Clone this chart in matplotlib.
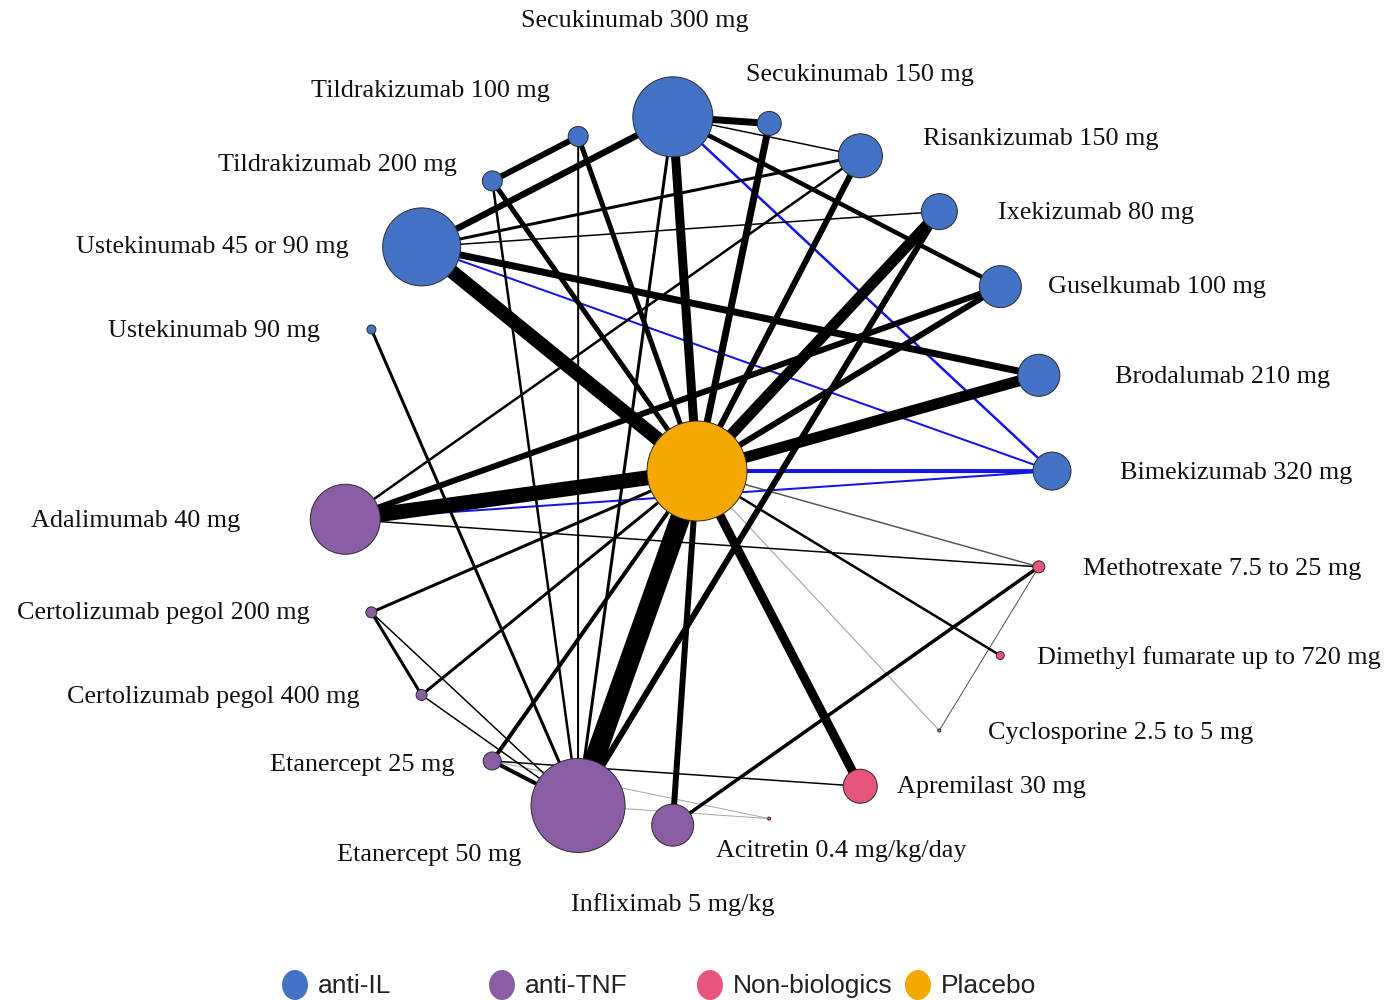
import numpy as np
import matplotlib
matplotlib.use("Agg")
import matplotlib.pyplot as plt
from matplotlib.patches import Circle, Ellipse

# ---------------- data ----------------
nodes = ["Secukinumab 300 mg", "Secukinumab 150 mg", "Risankizumab 150 mg",
         "Ixekizumab 80 mg", "Guselkumab 100 mg", "Brodalumab 210 mg",
         "Bimekizumab 320 mg", "Methotrexate 7.5 to 25 mg",
         "Dimethyl fumarate up to 720 mg", "Cyclosporine 2.5 to 5 mg",
         "Apremilast 30 mg", "Acitretin 0.4 mg/kg/day", "Infliximab 5 mg/kg",
         "Etanercept 50 mg", "Etanercept 25 mg", "Certolizumab pegol 400 mg",
         "Certolizumab pegol 200 mg", "Adalimumab 40 mg", "Placebo",
         "Ustekinumab 90 mg", "Ustekinumab 45 or 90 mg",
         "Tildrakizumab 200 mg", "Tildrakizumab 100 mg"]
node_class = ["anti-IL", "anti-IL", "anti-IL", "anti-IL", "anti-IL", "anti-IL",
              "anti-IL", "Non-biologics", "Non-biologics", "Non-biologics",
              "Non-biologics", "Non-biologics", "anti-TNF", "anti-TNF",
              "anti-TNF", "anti-TNF", "anti-TNF", "anti-TNF", "Placebo",
              "anti-IL", "anti-IL", "anti-IL", "anti-IL"]
# relative node size (radius units)
node_size = [40, 12, 22, 18, 21, 21, 19, 6, 4, 1.5, 17, 1.5, 21, 47, 9, 5.5,
             5.5, 35, 50, 4.5, 39, 10, 10]

categories = ["anti-IL", "anti-TNF", "Non-biologics", "Placebo"]

# edges: (node a, node b, weight, type)  type: d=direct black, b=blue, g=gray, l=light gray
edges = [
    ("Placebo", "Secukinumab 300 mg", 9, "d"),
    ("Placebo", "Secukinumab 150 mg", 7, "d"),
    ("Placebo", "Risankizumab 150 mg", 6, "d"),
    ("Placebo", "Ixekizumab 80 mg", 11, "d"),
    ("Placebo", "Guselkumab 100 mg", 6, "d"),
    ("Placebo", "Brodalumab 210 mg", 11, "d"),
    ("Placebo", "Bimekizumab 320 mg", 4, "b"),
    ("Placebo", "Methotrexate 7.5 to 25 mg", 1.5, "g"),
    ("Placebo", "Dimethyl fumarate up to 720 mg", 2.5, "d"),
    ("Placebo", "Cyclosporine 2.5 to 5 mg", 1.2, "l"),
    ("Placebo", "Apremilast 30 mg", 9, "d"),
    ("Placebo", "Infliximab 5 mg/kg", 6, "d"),
    ("Placebo", "Etanercept 50 mg", 20, "d"),
    ("Placebo", "Etanercept 25 mg", 4, "d"),
    ("Placebo", "Certolizumab pegol 400 mg", 3, "d"),
    ("Placebo", "Certolizumab pegol 200 mg", 3, "d"),
    ("Placebo", "Adalimumab 40 mg", 15, "d"),
    ("Placebo", "Ustekinumab 45 or 90 mg", 14, "d"),
    ("Placebo", "Tildrakizumab 200 mg", 5, "d"),
    ("Placebo", "Tildrakizumab 100 mg", 5, "d"),
    ("Secukinumab 300 mg", "Secukinumab 150 mg", 7, "d"),
    ("Secukinumab 300 mg", "Risankizumab 150 mg", 1.5, "d"),
    ("Secukinumab 300 mg", "Guselkumab 100 mg", 4.5, "d"),
    ("Secukinumab 300 mg", "Bimekizumab 320 mg", 2.5, "b"),
    ("Secukinumab 300 mg", "Ustekinumab 45 or 90 mg", 6.5, "d"),
    ("Secukinumab 300 mg", "Etanercept 50 mg", 3, "d"),
    ("Tildrakizumab 100 mg", "Tildrakizumab 200 mg", 6, "d"),
    ("Tildrakizumab 100 mg", "Etanercept 50 mg", 2, "d"),
    ("Tildrakizumab 200 mg", "Etanercept 50 mg", 2.5, "d"),
    ("Ustekinumab 45 or 90 mg", "Risankizumab 150 mg", 3, "d"),
    ("Ustekinumab 45 or 90 mg", "Ixekizumab 80 mg", 1.5, "d"),
    ("Ustekinumab 45 or 90 mg", "Brodalumab 210 mg", 7, "d"),
    ("Ustekinumab 45 or 90 mg", "Bimekizumab 320 mg", 2, "b"),
    ("Ustekinumab 90 mg", "Etanercept 50 mg", 3, "d"),
    ("Adalimumab 40 mg", "Guselkumab 100 mg", 6, "d"),
    ("Adalimumab 40 mg", "Risankizumab 150 mg", 2.5, "d"),
    ("Adalimumab 40 mg", "Bimekizumab 320 mg", 2, "b"),
    ("Adalimumab 40 mg", "Methotrexate 7.5 to 25 mg", 1.5, "d"),
    ("Certolizumab pegol 200 mg", "Certolizumab pegol 400 mg", 3, "d"),
    ("Certolizumab pegol 200 mg", "Etanercept 50 mg", 1.5, "d"),
    ("Certolizumab pegol 400 mg", "Etanercept 50 mg", 1.5, "d"),
    ("Etanercept 25 mg", "Etanercept 50 mg", 4, "d"),
    ("Etanercept 25 mg", "Apremilast 30 mg", 1.5, "d"),
    ("Etanercept 25 mg", "Acitretin 0.4 mg/kg/day", 1, "l"),
    ("Etanercept 50 mg", "Acitretin 0.4 mg/kg/day", 1, "l"),
    ("Etanercept 50 mg", "Ixekizumab 80 mg", 6, "d"),
    ("Infliximab 5 mg/kg", "Methotrexate 7.5 to 25 mg", 3.5, "d"),
    ("Methotrexate 7.5 to 25 mg", "Cyclosporine 2.5 to 5 mg", 1, "g"),
]

# ---------------- layout / style ----------------
W, H = 1386, 1000
cx, cy, R = 697, 471, 355
start_deg = -3.9
class_color = {"anti-IL": "#4472C4", "anti-TNF": "#8A5DA5",
               "Non-biologics": "#E8557A", "Placebo": "#F5A800"}
edge_color = {"d": "#000000", "b": "#1414E6", "g": "#555555", "l": "#A8A8A8"}

# label anchors (pixel space) and alignment
label_pos = {
    "Secukinumab 300 mg": (635, 18, "center"),
    "Secukinumab 150 mg": (746, 72, "left"),
    "Risankizumab 150 mg": (923, 136, "left"),
    "Ixekizumab 80 mg": (998, 210, "left"),
    "Guselkumab 100 mg": (1048, 285, "left"),
    "Brodalumab 210 mg": (1115, 374, "left"),
    "Bimekizumab 320 mg": (1120, 470, "left"),
    "Methotrexate 7.5 to 25 mg": (1083, 566, "left"),
    "Dimethyl fumarate up to 720 mg": (1037, 655, "left"),
    "Cyclosporine 2.5 to 5 mg": (988, 730, "left"),
    "Apremilast 30 mg": (897, 785, "left"),
    "Acitretin 0.4 mg/kg/day": (716, 848, "left"),
    "Infliximab 5 mg/kg": (673, 902, "center"),
    "Etanercept 50 mg": (521, 853, "right"),
    "Etanercept 25 mg": (455, 762, "right"),
    "Certolizumab pegol 400 mg": (360, 695, "right"),
    "Certolizumab pegol 200 mg": (310, 611, "right"),
    "Adalimumab 40 mg": (240, 518, "right"),
    "Ustekinumab 90 mg": (320, 328, "right"),
    "Ustekinumab 45 or 90 mg": (349, 245, "right"),
    "Tildrakizumab 200 mg": (457, 163, "right"),
    "Tildrakizumab 100 mg": (550, 89, "right"),
}

n = len(nodes)
pos = {}
for i, name in enumerate(nodes):
    if name == "Placebo":
        pos[name] = (cx, cy)
    else:
        a = np.deg2rad(start_deg + i * 360.0 / n)
        pos[name] = (cx + R * np.sin(a), cy - R * np.cos(a))

fig = plt.figure(figsize=(W / 100, H / 100), dpi=100)
ax = fig.add_axes([0, 0, 1, 1])
ax.set_xlim(0, W)
ax.set_ylim(H, 0)
ax.axis("off")

px2pt = 72 / 100
order = {"l": 0, "g": 1, "b": 2, "d": 3}
for a, b, w, t in sorted(edges, key=lambda e: order[e[3]]):
    (x1, y1), (x2, y2) = pos[a], pos[b]
    ax.plot([x1, x2], [y1, y2], color=edge_color[t], lw=w * px2pt,
            solid_capstyle="butt", zorder=1 + order[t] * 0.1)

for name, cls, s in zip(nodes, node_class, node_size):
    x, y = pos[name]
    ax.add_patch(Circle((x, y), s, facecolor=class_color[cls],
                        edgecolor="#2a2a2a", lw=0.7, zorder=5))

for name in nodes:
    if name in label_pos:
        lx, ly, ha = label_pos[name]
        ax.text(lx, ly + 2.5, name, ha=ha, va="center", fontsize=18.8,
                family="Liberation Serif", color="#111111", zorder=6)

# legend
leg_x = [295, 502, 710, 918]
for cat, lx in zip(categories, leg_x):
    ax.add_patch(Ellipse((lx, 985), 26, 30, facecolor=class_color[cat],
                         edgecolor="none", zorder=6))
    ax.text(lx + 23, 986, cat, ha="left", va="center", fontsize=19,
            family="Liberation Sans", color="#222222", zorder=6)

fig.savefig("out.png", dpi=100)
